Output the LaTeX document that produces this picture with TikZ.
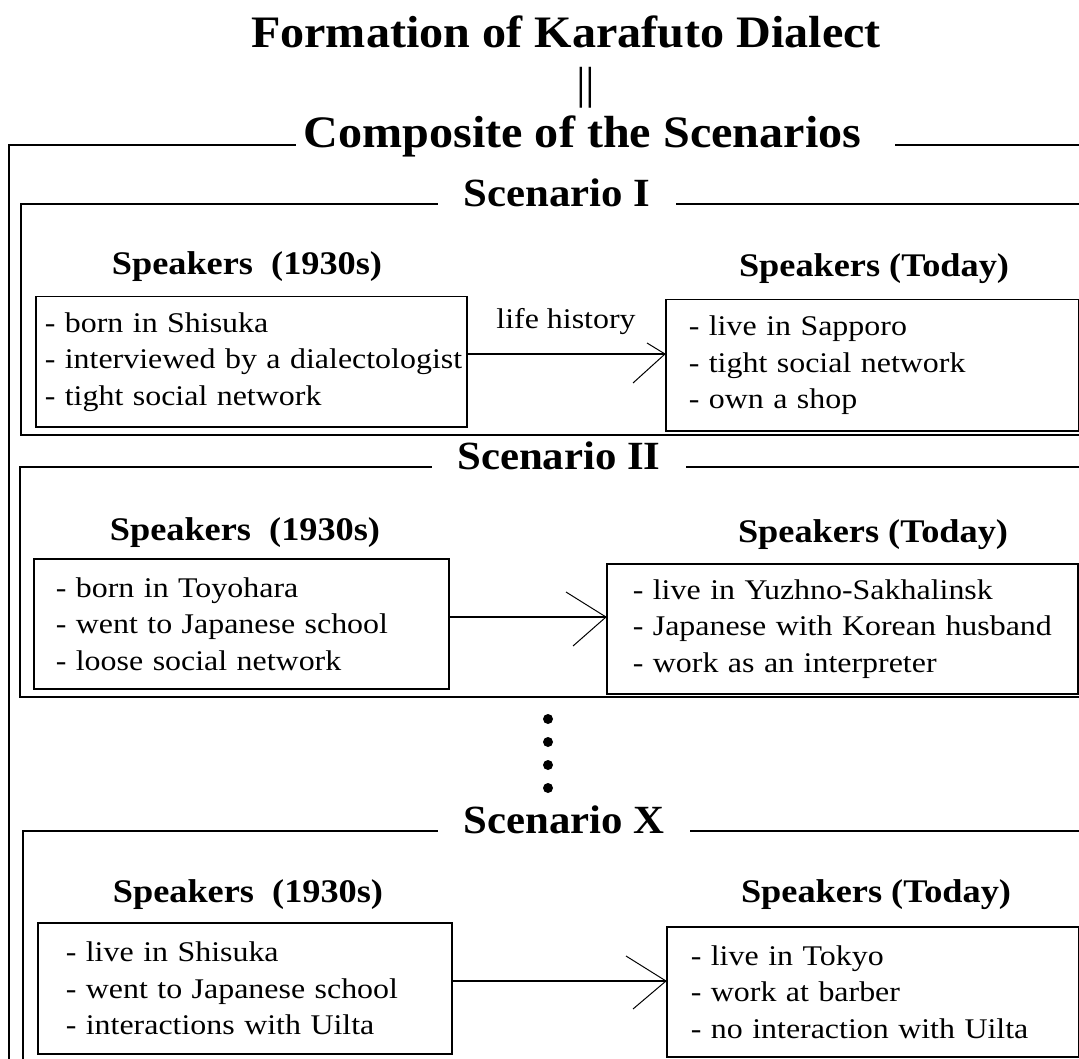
\documentclass[tikz,border=0pt]{standalone}
\usepackage{fontspec}
\setmainfont{Liberation Serif}
\newfontfamily\headfont[FakeStretch=1.07]{Liberation Serif}
\newfontfamily\spkfont[FakeStretch=1.1]{Liberation Serif}
\newfontfamily\bodyfont[FakeStretch=1.12]{Liberation Serif}
\newcommand{\threeitems}[3]{\mbox{- #1}\\\mbox{- #2}\\\mbox{- #3}}

\begin{document}
\begin{tikzpicture}[x=1pt, y=-1pt, line width=1.5pt,
	scenhead/.style={font=\fontsize{40pt}{44pt}\headfont\bfseries, anchor=mid, inner xsep=25pt},
	spkhead/.style={font=\fontsize{33pt}{36pt}\spkfont\bfseries, anchor=base},
	itembox/.style={draw, anchor=north west, align=left, inner ysep=0pt, font=\fontsize{28.5pt}{36.5pt}\bodyfont},
	barb/.style={line width=1pt}]
		\useasboundingbox (0,0) rectangle (1079,1059);
		\clip (0,0) rectangle (1079,1059);
		\fill[white] (0,0) rectangle (1079,1059);

		% title and outer frame
		\node [font=\fontsize{45pt}{50pt}\headfont\bfseries, anchor=base] (title) at (566,48) {Formation of Karafuto Dialect};
		\node [font=\fontsize{45pt}{50pt}\headfont, anchor=base] (equal) at (586,99) {||};
		\node [font=\fontsize{45pt}{50pt}\headfont\bfseries, anchor=mid, inner xsep=7pt] (comp) at (582.5,145) {Composite of the Scenarios};
		\draw (comp.mid west) -- (9,145) -- (9,1070);
		\draw ([xshift=26pt]comp.mid east) -- (1090,145);

		% scenario I
		\node [scenhead] (sI) at (557,204) {Scenario I};
		\draw (sI.mid west) -- (21,204) -- (21,435) -- (1090,435);
		\draw (sI.mid east) -- (1090,204);
		\node [spkhead] (hIL) at (247,275) {Speakers~~(1930s)};
		\node [spkhead] (hIR) at (874,277) {Speakers (Today)};
		\node [itembox, text width=413pt, inner xsep=9pt, minimum height=130pt] (b1) at (35,296)
			{\threeitems{born in Shisuka}{interviewed by a dialectologist}{tight social network}};
		\node [itembox, text width=367pt, inner xsep=23pt, minimum height=131pt] (b2) at (665,299)
			{\threeitems{live in Sapporo}{tight social network}{own a shop}};
		\coordinate (a1) at (0,354);
		\draw (b1.east |- a1) -- (b2.west |- a1);
		\draw [barb] (b2.west |- a1) -- ++(-18,-11) (b2.west |- a1) -- ++(-32,29);
		\node [font=\fontsize{28.5pt}{32pt}\bodyfont, anchor=base] (life) at (566,329) {life history};

		% scenario II
		\node [scenhead] (sII) at (559,467) {Scenario II};
		\draw (sII.mid west) -- (20,467) -- (20,697) -- (1090,697);
		\draw (sII.mid east) -- (1090,467);
		\node [spkhead] (hIIL) at (245,540) {Speakers~~(1930s)};
		\node [spkhead] (hIIR) at (873,542) {Speakers (Today)};
		\node [itembox, text width=371pt, inner xsep=22pt, minimum height=130pt] (b3) at (33,558)
			{\threeitems{born in Toyohara}{went to Japanese school}{loose social network}};
		\node [itembox, text width=419pt, inner xsep=26pt, minimum height=130pt] (b4) at (606,563)
			{\threeitems{live in Yuzhno-Sakhalinsk}{Japanese with Korean husband}{work as an interpreter}};
		\coordinate (a2) at (0,617);
		\draw (b3.east |- a2) -- (b4.west |- a2);
		\draw [barb] (b4.west |- a2) -- ++(-40,-25) (b4.west |- a2) -- ++(-33,29);

		% dots between the scenarios
		\foreach \y in {719,742,765,788}
			\fill (548,\y) circle (5pt);

		% scenario X
		\node [scenhead] (sX) at (564,831) {Scenario X};
		\draw (sX.mid west) -- (23,831) -- (23,1070);
		\draw (sX.mid east) -- (1090,831);
		\node [spkhead] (hXL) at (248,902) {Speakers~~(1930s)};
		\node [spkhead] (hXR) at (876,902) {Speakers (Today)};
		\node [itembox, text width=358pt, inner xsep=28pt, minimum height=131pt] (b5) at (37,922)
			{\threeitems{live in Shisuka}{went to Japanese school}{interactions with Uilta}};
		\node [itembox, text width=364pt, inner xsep=24pt, minimum height=130pt] (b6) at (666,926)
			{\threeitems{live in Tokyo}{work at barber}{no interaction with Uilta}};
		\coordinate (a3) at (0,981);
		\draw (b5.east |- a3) -- (b6.west |- a3);
		\draw [barb] (b6.west |- a3) -- ++(-40,-25) (b6.west |- a3) -- ++(-33,28);
	\end{tikzpicture}
\end{document}
